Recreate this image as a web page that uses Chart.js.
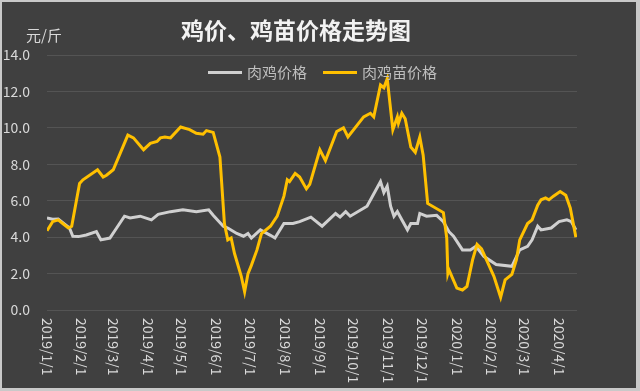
<!DOCTYPE html>
<html>
<head>
<meta charset="utf-8">
<script src="https://cdn.jsdelivr.net/npm/chart.js@4"></script>
<style>
  html, body { margin: 0; padding: 0; background: #c9c9c9; }
  #wrap { position: absolute; left: 2px; top: 2px; width: 634px; height: 386px; background: #404040; }
</style>
</head>
<body>
<div id="wrap"><canvas id="priceChart" width="634" height="386"></canvas></div>
<script>
const titleText = "鸡价、鸡苗价格走势图";
const unitText = "元/斤";
const seriesNames = ["肉鸡价格", "肉鸡苗价格"];

const monthLabels = ["2019/1/1", "2019/2/1", "2019/3/1", "2019/4/1", "2019/5/1", "2019/6/1",
    "2019/7/1", "2019/8/1", "2019/9/1", "2019/10/1", "2019/11/1", "2019/12/1",
    "2020/1/1", "2020/2/1", "2020/3/1", "2020/4/1"];

// 肉鸡价格
const broilerDates = ["2019/1/1", "2019/1/6", "2019/1/11", "2019/1/17", "2019/1/21", "2019/1/24",
    "2019/1/29", "2019/2/5", "2019/2/14", "2019/2/18", "2019/2/26", "2019/3/4", "2019/3/11",
    "2019/3/16", "2019/3/25", "2019/4/4", "2019/4/10", "2019/4/21", "2019/5/2", "2019/5/14",
    "2019/5/25", "2019/5/29", "2019/6/7", "2019/6/11", "2019/6/19", "2019/6/25", "2019/6/29",
    "2019/7/2", "2019/7/10", "2019/7/19", "2019/7/23", "2019/7/31", "2019/8/8", "2019/8/14",
    "2019/8/24", "2019/9/3", "2019/9/15", "2019/9/19", "2019/9/24", "2019/9/28", "2019/10/13",
    "2019/10/17", "2019/10/25", "2019/10/28", "2019/10/31", "2019/11/3", "2019/11/6", "2019/11/9",
    "2019/11/13", "2019/11/18", "2019/11/21", "2019/11/27", "2019/11/29", "2019/12/5", "2019/12/14",
    "2019/12/20", "2019/12/25", "2019/12/29", "2020/1/6", "2020/1/13", "2020/1/18", "2020/1/25",
    "2020/2/5", "2020/2/19", "2020/2/26", "2020/3/4", "2020/3/8", "2020/3/13", "2020/3/16",
    "2020/3/25", "2020/4/1", "2020/4/8", "2020/4/12", "2020/4/16"];
const broilerPrices = [5.05, 4.98, 5.0, 4.7, 4.5, 4.05,
    4.03, 4.12, 4.3, 3.85, 3.95, 4.5, 5.15,
    5.05, 5.15, 4.95, 5.25, 5.4, 5.5, 5.4,
    5.5, 5.2, 4.6, 4.5, 4.2, 4.05, 4.2,
    3.95, 4.4, 4.1, 3.95, 4.75, 4.75, 4.85,
    5.1, 4.6, 5.3, 5.1, 5.4, 5.15, 5.7,
    6.15, 7.05, 6.45, 6.8, 5.7, 5.15, 5.4,
    4.95, 4.4, 4.75, 4.75, 5.3, 5.15, 5.2,
    4.85, 4.3, 4.05, 3.3, 3.3, 3.5, 2.95,
    2.5, 2.4, 3.3, 3.5, 3.85, 4.6, 4.4,
    4.5, 4.85, 4.95, 4.85, 4.4];

// 肉鸡苗价格
const chickDates = ["2019/1/1", "2019/1/6", "2019/1/11", "2019/1/15", "2019/1/20", "2019/1/23",
    "2019/1/30", "2019/2/2", "2019/2/15", "2019/2/20", "2019/2/23", "2019/3/1", "2019/3/14",
    "2019/3/19", "2019/3/28", "2019/4/3", "2019/4/9", "2019/4/12", "2019/4/16", "2019/4/21",
    "2019/4/30", "2019/5/8", "2019/5/14", "2019/5/20", "2019/5/23", "2019/5/29", "2019/6/4",
    "2019/6/8", "2019/6/11", "2019/6/14", "2019/6/17", "2019/6/23", "2019/6/26", "2019/6/29",
    "2019/7/2", "2019/7/7", "2019/7/11", "2019/7/19", "2019/7/25", "2019/7/31", "2019/8/3",
    "2019/8/5", "2019/8/10", "2019/8/14", "2019/8/20", "2019/8/23", "2019/9/1", "2019/9/6",
    "2019/9/16", "2019/9/22", "2019/9/26", "2019/10/10", "2019/10/16", "2019/10/19", "2019/10/25",
    "2019/10/28", "2019/10/31", "2019/11/5", "2019/11/9", "2019/11/10", "2019/11/13", "2019/11/16",
    "2019/11/21", "2019/11/25", "2019/11/29", "2019/12/2", "2019/12/6", "2019/12/20", "2019/12/23",
    "2019/12/24", "2019/12/25", "2020/1/1", "2020/1/6", "2020/1/10", "2020/1/15", "2020/1/19",
    "2020/1/23", "2020/2/3", "2020/2/9", "2020/2/13", "2020/2/19", "2020/2/23", "2020/2/26",
    "2020/3/4", "2020/3/8", "2020/3/13", "2020/3/16", "2020/3/20", "2020/3/23", "2020/3/27",
    "2020/4/2", "2020/4/7", "2020/4/11", "2020/4/16"];
const chickPrices = [4.35, 4.85, 4.95, 4.75, 4.5, 4.6,
    6.95, 7.15, 7.7, 7.3, 7.4, 7.7, 9.6,
    9.45, 8.8, 9.15, 9.25, 9.45, 9.5, 9.45,
    10.05, 9.9, 9.7, 9.65, 9.85, 9.75, 8.4,
    4.75, 3.85, 3.95, 3.1, 1.85, 1.0, 2.0,
    2.45, 3.3, 4.2, 4.6, 5.15, 6.25, 7.15,
    7.05, 7.5, 7.3, 6.65, 6.9, 8.8, 8.2,
    9.8, 10.0, 9.5, 10.6, 10.8, 10.6, 12.35,
    12.2, 12.7, 9.9, 10.6, 10.25, 10.8, 10.5,
    8.95, 8.65, 9.5, 8.5, 5.85, 5.35, 3.95,
    2.0, 2.2, 1.2, 1.1, 1.3, 2.75, 3.6,
    3.35, 1.85, 0.7, 1.65, 1.95, 2.75, 3.85,
    4.75, 4.95, 5.75, 6.05, 6.15, 6.05, 6.25,
    6.5, 6.3, 5.6, 4.0];

// days since 2019/1/1
function dayIndex(s) {
    const p = s.split("/").map(Number);
    return (Date.UTC(p[0], p[1] - 1, p[2]) - Date.UTC(2019, 0, 1)) / 86400000;
}
function toPoints(dates, values) {
    return dates.map((d, i) => ({ x: dayIndex(d), y: values[i] }));
}

Chart.defaults.font.family = '"Noto Sans CJK SC", "Noto Sans", sans-serif';

const textPlugin = {
    id: "textPlugin",
    afterDraw(chart) {
        const ctx = chart.ctx;
        const xScale = chart.scales.x;
        ctx.save();
        ctx.fillStyle = "#f2f2f2";
        ctx.font = 'bold 23px "Noto Sans CJK SC"';
        ctx.textAlign = "center";
        ctx.textBaseline = "middle";
        ctx.fillText(titleText, 294, 28);

        ctx.fillStyle = "#d9d9d9";
        ctx.font = '15px "Noto Sans CJK SC"';
        ctx.fillText(unitText, 42, 33);

        // legend, inside the plot area like the original
        ctx.textAlign = "left";
        let lx = 206;
        seriesNames.forEach(name => {
            const ds = chart.data.datasets.find(d => d.label === name);
            ctx.fillStyle = ds.borderColor;
            ctx.fillRect(lx, 69, 34, 3);
            ctx.fillStyle = "#bfbfbf";
            ctx.fillText(name, lx + 39, 70);
            lx += 39 + ctx.measureText(name).width + 16;
        });

        ctx.fillStyle = "#d9d9d9";
        ctx.font = '14px "Noto Sans CJK SC"';
        monthLabels.forEach(label => {
            const x = xScale.getPixelForValue(dayIndex(label));
            ctx.save();
            ctx.translate(x, chart.chartArea.bottom + 8);
            ctx.rotate(Math.PI / 2);
            ctx.fillText(label, 0, 0);
            ctx.restore();
        });
        ctx.restore();
    }
};

new Chart(document.getElementById("priceChart"), {
    type: "line",
    data: {
        datasets: [
            {
                label: seriesNames[1],
                data: toPoints(chickDates, chickPrices),
                borderColor: "#FFC000",
                borderWidth: 3,
                pointRadius: 0,
                tension: 0
            },
            {
                label: seriesNames[0],
                data: toPoints(broilerDates, broilerPrices),
                borderColor: "#d0d0d0",
                borderWidth: 3,
                pointRadius: 0,
                tension: 0
            }
        ]
    },
    options: {
        responsive: false,
        animation: false,
        events: [],
        layout: { padding: { top: 53, right: 59, bottom: 78, left: 0 } },
        scales: {
            x: {
                type: "linear",
                display: false,
                min: 0,
                max: 472
            },
            y: {
                min: 0,
                max: 14,
                ticks: {
                    stepSize: 2,
                    color: "#d9d9d9",
                    font: { size: 14 },
                    padding: 17,
                    callback: v => v.toFixed(1)
                },
                grid: { color: "#545454", drawTicks: false },
                border: { display: false },
                afterFit: s => { s.width = 45; }
            }
        },
        plugins: {
            tooltip: { enabled: false },
            legend: { display: false }
        }
    },
    plugins: [textPlugin]
});
</script>
</body>
</html>
